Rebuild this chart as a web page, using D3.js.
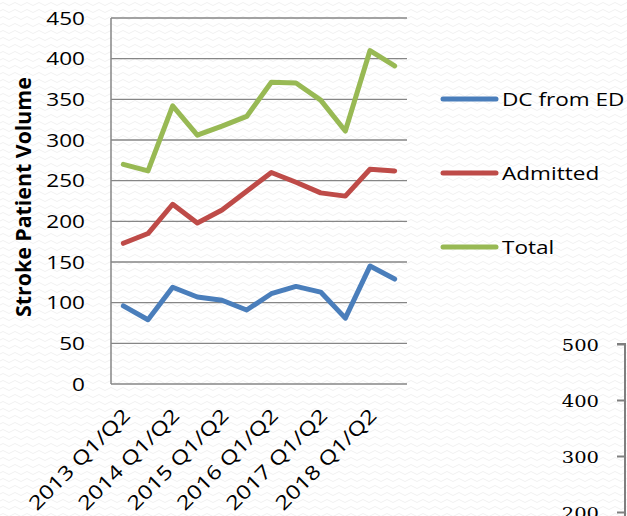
<!DOCTYPE html>
<html lang="en">
<head>
<meta charset="utf-8">
<script src="https://d3js.org/d3.v7.min.js"></script>
<style>
  body { margin: 0; background: #fff; }
  text { font-family: "Open Sans", "Liberation Sans", sans-serif; fill: #000; }
</style>
</head>
<body>
<div id="chart"></div>
<script>

// data
var periods = ["2013 Q1/Q2", "2013 Q3/Q4", "2014 Q1/Q2", "2014 Q3/Q4", "2015 Q1/Q2", "2015 Q3/Q4",
               "2016 Q1/Q2", "2016 Q3/Q4", "2017 Q1/Q2", "2017 Q3/Q4", "2018 Q1/Q2", "2018 Q3/Q4"];
var dcFromED = [96, 79, 119, 107, 103, 91, 111, 120, 113, 81, 145, 129];
var admitted = [173, 185, 221, 198, 214, 237, 260, 248, 235, 231, 264, 262];
var total    = [270, 262, 342, 306, 317, 329, 371, 370, 349, 311, 410, 391];
var yTicks = [0, 50, 100, 150, 200, 250, 300, 350, 400, 450];
var seriesNames = ["DC from ED", "Admitted", "Total"];
var seriesColors = ["#4a7ebb", "#be4b48", "#98b954"];
var otherTicks = [200, 300, 400, 500];

var W = 627, H = 516;
var sx = 1.22;   // text in the picture is drawn wide

var svg = d3.select("#chart").append("svg")
  .attr("width", W).attr("height", H);

// faint wavy paper texture
var pat = svg.append("defs").append("pattern")
  .attr("id", "wave").attr("width", 12).attr("height", 7)
  .attr("patternUnits", "userSpaceOnUse");
pat.append("path")
  .attr("d", "M0,4 Q3,1 6,4 T12,4")
  .attr("fill", "none").attr("stroke", "#f1f1f1").attr("stroke-width", 1);
svg.append("rect").attr("width", W).attr("height", H).attr("fill", "#fff");
svg.append("rect").attr("width", W).attr("height", H).attr("fill", "url(#wave)");

var x = d3.scalePoint().domain(periods).range([111, 407]).padding(0.5);
var y = d3.scaleLinear().domain([0, 450]).range([384, 18]);

// gridlines
svg.append("g").selectAll("line")
  .data(yTicks.slice(1))
  .enter().append("line")
    .attr("x1", 111).attr("x2", 407)
    .attr("y1", function(d) { return y(d); })
    .attr("y2", function(d) { return y(d); })
    .attr("stroke", "#868686").attr("stroke-width", 1.3);

// axis lines
svg.append("line").attr("x1", 111).attr("x2", 111).attr("y1", y(450)).attr("y2", y(0))
  .attr("stroke", "#868686").attr("stroke-width", 1.5);
svg.append("line").attr("x1", 111).attr("x2", 407).attr("y1", y(0)).attr("y2", y(0))
  .attr("stroke", "#868686").attr("stroke-width", 1.5);

// y tick labels
svg.append("g").selectAll("text")
  .data(yTicks)
  .enter().append("text")
    .attr("transform", function(d) { return "translate(85," + y(d) + ") scale(" + sx + ",1)"; })
    .attr("text-anchor", "end")
    .attr("dy", "0.36em")
    .style("font-size", "18.5px")
    .text(function(d) { return d; });

// x labels, every second period
svg.append("g").selectAll("text")
  .data(periods.filter(function(d, i) { return i % 2 === 0; }))
  .enter().append("text")
    .attr("transform", function(d) { return "translate(" + (x(d) + 3) + ",412) rotate(-45) scale(" + sx + ",1)"; })
    .attr("text-anchor", "end")
    .attr("dy", "0.36em")
    .style("font-size", "19.5px")
    .text(function(d) { return d; });

// y title
var title = svg.append("text")
  .attr("text-anchor", "middle")
  .style("font-size", "21px")
  .style("font-weight", "bold")
  .text("Stroke Patient Volume");
var tl = title.node().getComputedTextLength();
title.attr("transform", "translate(31,197) rotate(-90) scale(" + (240 / tl) + ",1)");

// lines
var line = d3.line()
  .x(function(d, i) { return x(periods[i]); })
  .y(function(d) { return y(d); });

[dcFromED, admitted, total].forEach(function(vals, k) {
  svg.append("path")
    .datum(vals)
    .attr("d", line)
    .attr("fill", "none")
    .attr("stroke", seriesColors[k])
    .attr("stroke-width", 5)
    .attr("stroke-linejoin", "round")
    .attr("stroke-linecap", "round");
});

// legend
var legY = [99, 173, 247];
var leg = svg.append("g").selectAll("g")
  .data(seriesNames)
  .enter().append("g");
leg.append("line")
  .attr("x1", 443).attr("x2", 496)
  .attr("y1", function(d, i) { return legY[i]; })
  .attr("y2", function(d, i) { return legY[i]; })
  .attr("stroke", function(d, i) { return seriesColors[i]; })
  .attr("stroke-width", 5)
  .attr("stroke-linecap", "round");
leg.append("text")
  .attr("transform", function(d, i) { return "translate(502," + legY[i] + ") scale(" + sx + ",1)"; })
  .attr("dy", "0.36em")
  .style("font-size", "18.5px")
  .text(function(d) { return d; });

// edge of the next chart, bottom right
var y2 = d3.scaleLinear().domain([0, 500]).range([624, 344]);
var ax2 = svg.append("g")
  .attr("transform", "translate(625,0)")
  .call(d3.axisLeft(y2).tickValues(otherTicks).tickSize(8).tickPadding(0).tickFormat(d3.format("d")));
ax2.select(".domain").attr("d", "M-8," + y2(500) + "H0V" + H).attr("stroke", "#7f7f7f").attr("stroke-width", 2);
ax2.selectAll(".tick line").attr("stroke", "#7f7f7f").attr("stroke-width", 2);
ax2.selectAll(".tick text")
  .attr("x", null).attr("dy", null)
  .attr("transform", "translate(-26,6) scale(1.15,1)")
  .style("font-family", "'DejaVu Serif', serif")
  .style("font-size", "17px");

</script>
</body>
</html>
